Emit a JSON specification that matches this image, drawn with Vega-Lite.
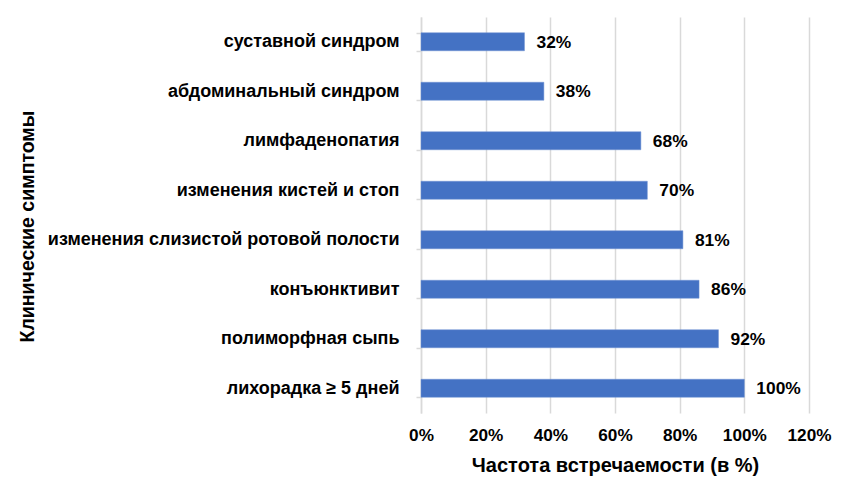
{
  "$schema": "https://vega.github.io/schema/vega-lite/v6.json",
  "width": 388,
  "height": 396,
  "autosize": {"type": "none"},
  "padding": {"left": 421, "top": 17, "right": 38, "bottom": 81},
  "background": "white",
  "config": {
    "font": "Liberation Sans",
    "view": {"stroke": null}
  },
  "data": {
    "values": [
      {"symptom": "суставной синдром", "value": 32},
      {"symptom": "абдоминальный синдром", "value": 38},
      {"symptom": "лимфаденопатия", "value": 68},
      {"symptom": "изменения кистей и стоп ", "value": 70},
      {"symptom": "изменения слизистой ротовой полости", "value": 81},
      {"symptom": "конъюнктивит ", "value": 86},
      {"symptom": "полиморфная сыпь", "value": 92},
      {"symptom": "лихорадка ≥ 5 дней", "value": 100}
    ]
  },
  "encoding": {
    "y": {
      "field": "symptom",
      "type": "nominal",
      "sort": null,
      "scale": {"paddingInner": 0.636, "paddingOuter": 0.318},
      "axis": {
        "title": "Клинические симптомы",
        "titleFont": "Liberation Sans",
        "titleFontSize": 19.5,
        "titleFontWeight": "bold",
        "titleColor": "#000000",
        "titleAngle": -90,
        "titleX": -394,
        "titleY": 209,
        "titleAlign": "center",
        "titleBaseline": "middle",
        "labelFontSize": 18,
        "labelFontWeight": "bold",
        "labelColor": "#000000",
        "labelPadding": 17,
        "labelLimit": 500,
        "domain": true,
        "domainColor": "#d9d9d9",
        "domainWidth": 1.5,
        "ticks": true,
        "tickBand": "extent",
        "tickSize": 5,
        "tickColor": "#d9d9d9",
        "tickWidth": 1.5,
        "grid": false
      }
    },
    "x": {
      "field": "value",
      "type": "quantitative",
      "scale": {"domain": [0, 120], "nice": false},
      "axis": {
        "title": "Частота встречаемости (в %)",
        "titleFontSize": 20,
        "titleFontWeight": "bold",
        "titleColor": "#000000",
        "titleY": 52,
        "titleBaseline": "middle",
        "values": [0, 20, 40, 60, 80, 100, 120],
        "labelExpr": "datum.value + '%'",
        "labelFontSize": 17.2,
        "labelFontWeight": "bold",
        "labelColor": "#000000",
        "labelPadding": 13,
        "labelFlush": false,
        "domain": false,
        "ticks": false,
        "grid": true,
        "gridColor": "#d9d9d9",
        "gridWidth": 1.5
      }
    }
  },
  "layer": [
    {
      "mark": {"type": "bar", "color": "#4472C4", "stroke": "#6f93d3", "strokeWidth": 0.5}
    },
    {
      "mark": {
        "type": "text",
        "align": "left",
        "baseline": "middle",
        "dx": 12,
        "dy": 1,
        "fontSize": 17.4,
        "fontWeight": "bold",
        "color": "#000000",
        "text": {"expr": "datum.value + '%'"}
      }
    }
  ]
}
